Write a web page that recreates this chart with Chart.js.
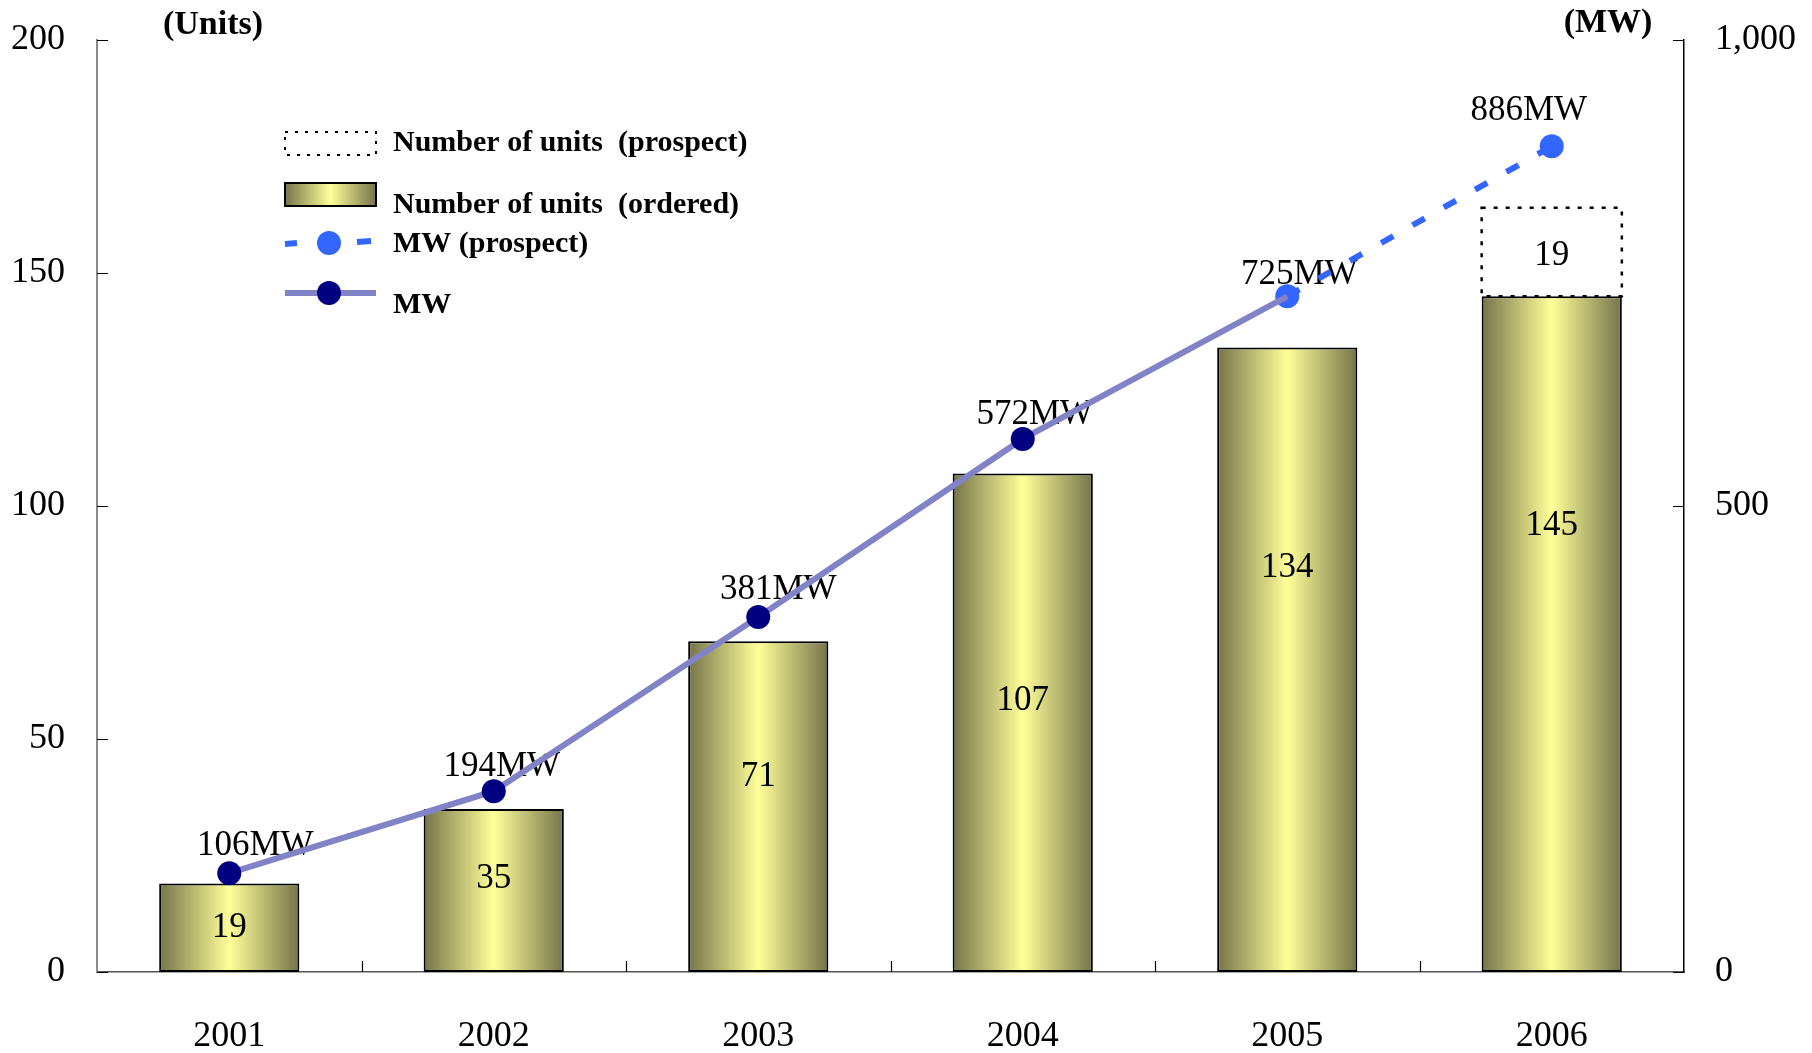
<!DOCTYPE html>
<html>
<head>
<meta charset="utf-8">
<title>Units and MW by year</title>
<script src="https://cdn.jsdelivr.net/npm/chart.js@4.4.1/dist/chart.umd.min.js"></script>
<style>
  html, body { margin: 0; padding: 0; background: #ffffff; }
  #wrap { width: 1812px; height: 1053px; }
</style>
</head>
<body>
<div id="wrap"><canvas id="chart" width="1812" height="1053"></canvas></div>
<script>
// ---- data ----
const YEARS = ['2001', '2002', '2003', '2004', '2005', '2006'];
const UNITS_ORDERED = [19, 35, 71, 107, 134, 145];
const UNITS_PROSPECT = [null, null, null, null, null, 19];
const MW_ACTUAL = [106, 194, 381, 572, 725, null];
const MW_PROSPECT = [null, null, null, null, 725, 886];
const UNIT_TICKS = [0, 50, 100, 150, 200];
const MW_TICKS = [0, 500, 1000];

// ---- label placement (units axis value for bar labels, pixel nudges for MW labels) ----
const BAR_LABEL_AT = [9.4, 19.9, 41.9, 58.3, 86.8, 95.8];
const MW_LABEL_NUDGE = [[26, -27], [8, -24], [20, -27], [12, -24], [12, -21], [-23, -35]];

const LEGEND_ITEMS = [
  'Number of units  (prospect)',
  'Number of units  (ordered)',
  'MW (prospect)',
  'MW'
];

// ---- style ----
const SERIF = '"Liberation Serif", "Times New Roman", serif';
const BAR_DARK = '#74744a';
const BAR_LIGHT = '#ffff99';
const LINE_COLOR = '#8282c6';
const POINT_COLOR = '#000080';
const PROSPECT_COLOR = '#3366ff';
const BAR_FRACTION = 0.53;

function barGradient(ctx, x0, x1) {
  const g = ctx.createLinearGradient(x0, 0, x1, 0);
  g.addColorStop(0, BAR_DARK);
  g.addColorStop(0.5, BAR_LIGHT);
  g.addColorStop(1, BAR_DARK);
  return g;
}

function scriptedBarFill(c) {
  const chart = c.chart;
  const xs = chart.scales && chart.scales.x;
  if (!chart.chartArea || !xs || c.type !== 'data') return BAR_LIGHT;
  const center = xs.getPixelForValue(c.dataIndex);
  const half = (xs.width / YEARS.length) * BAR_FRACTION / 2;
  return barGradient(chart.ctx, center - half, center + half);
}

// vertical axes: fixed width, no extra label padding above/below the plot
function fixVertical(width) {
  return s => {
    s.width = width;
    s.paddingTop = 0;
    s.paddingBottom = 0;
  };
}

const decor = {
  id: 'decor',
  beforeDatasetsDraw(chart) {
    // MW value labels sit under the lines
    const ctx = chart.ctx;
    ctx.save();
    ctx.font = '35px ' + SERIF;
    ctx.fillStyle = '#000';
    ctx.textAlign = 'center';
    ctx.textBaseline = 'middle';
    const yMW = chart.scales.y1;
    const xs = chart.scales.x;
    YEARS.forEach((yr, i) => {
      const v = MW_ACTUAL[i] != null ? MW_ACTUAL[i] : MW_PROSPECT[i];
      if (v == null) return;
      const px = xs.getPixelForValue(i) + MW_LABEL_NUDGE[i][0];
      const py = yMW.getPixelForValue(v) + MW_LABEL_NUDGE[i][1];
      ctx.fillText(v + 'MW', px, py);
    });
    ctx.restore();
  },
  afterDatasetDraw(chart, args) {
    if (args.index !== 0) return;
    const ctx = chart.ctx;
    const ys = chart.scales.y;
    // dotted outline for the prospect bar
    const metaP = chart.getDatasetMeta(1);
    ctx.save();
    ctx.strokeStyle = '#000';
    ctx.lineWidth = 2.5;
    ctx.setLineDash([4, 8]);
    metaP.data.forEach((el, i) => {
      if (UNITS_PROSPECT[i] == null) return;
      const p = el.getProps(['x', 'y', 'base', 'width'], true);
      ctx.strokeRect(p.x - p.width / 2, p.y, p.width, p.base - p.y);
    });
    ctx.restore();

    // bar value labels
    ctx.save();
    ctx.font = '35px ' + SERIF;
    ctx.fillStyle = '#000';
    ctx.textAlign = 'center';
    ctx.textBaseline = 'middle';
    const metaO = chart.getDatasetMeta(0);
    metaO.data.forEach((el, i) => {
      ctx.fillText(String(UNITS_ORDERED[i]), el.x, ys.getPixelForValue(BAR_LABEL_AT[i]));
    });
    metaP.data.forEach((el, i) => {
      if (UNITS_PROSPECT[i] == null) return;
      const p = el.getProps(['x', 'y', 'base'], true);
      ctx.fillText(String(UNITS_PROSPECT[i]), p.x, (p.y + p.base) / 2 + 4);
    });
    ctx.restore();
  },
  afterDraw(chart) {
    const ctx = chart.ctx;
    const area = chart.chartArea;
    const xs = chart.scales.x, ys = chart.scales.y, y1 = chart.scales.y1;
    const TL = 11;

    // inward tick marks
    ctx.save();
    ctx.strokeStyle = '#000';
    ctx.lineWidth = 1.2;
    ctx.beginPath();
    UNIT_TICKS.forEach(v => {
      const py = Math.round(ys.getPixelForValue(v)) + 0.5;
      ctx.moveTo(area.left, py); ctx.lineTo(area.left + TL, py);
    });
    MW_TICKS.forEach(v => {
      const py = Math.round(y1.getPixelForValue(v)) + 0.5;
      ctx.moveTo(area.right, py); ctx.lineTo(area.right - TL, py);
    });
    const step = xs.width / YEARS.length;
    for (let i = 1; i < YEARS.length; i++) {
      const px = Math.round(xs.getPixelForValue(i) - step / 2) + 0.5;
      ctx.moveTo(px, area.bottom); ctx.lineTo(px, area.bottom - TL);
    }
    ctx.stroke();
    ctx.restore();

    // axis unit captions
    ctx.save();
    ctx.font = 'bold 34px ' + SERIF;
    ctx.fillStyle = '#000';
    ctx.textAlign = 'center';
    ctx.textBaseline = 'middle';
    ctx.fillText('(Units)', area.left + 116, 25);
    ctx.fillText('(MW)', area.right - 76, 23);
    ctx.restore();

    // legend
    ctx.save();
    const lx = 285, lw = 91, tx = 393;
    // prospect units: dotted box
    ctx.strokeStyle = '#000';
    ctx.lineWidth = 2;
    ctx.setLineDash([3, 7]);
    ctx.strokeRect(lx, 132, lw, 23);
    ctx.setLineDash([]);
    // ordered units: gradient box
    ctx.fillStyle = barGradient(ctx, lx, lx + lw);
    ctx.fillRect(lx, 183, lw, 23);
    ctx.lineWidth = 2;
    ctx.strokeRect(lx, 183, lw, 23);
    // MW prospect: dashed line + point
    ctx.strokeStyle = PROSPECT_COLOR;
    ctx.lineWidth = 6;
    ctx.beginPath();
    ctx.moveTo(lx, 244); ctx.lineTo(lx + 12, 243);
    ctx.moveTo(lx + 72, 242); ctx.lineTo(lx + 86, 241);
    ctx.stroke();
    ctx.fillStyle = PROSPECT_COLOR;
    ctx.beginPath(); ctx.arc(lx + 44, 243, 12, 0, Math.PI * 2); ctx.fill();
    // MW actual: solid line + point
    ctx.strokeStyle = LINE_COLOR;
    ctx.beginPath(); ctx.moveTo(lx, 293); ctx.lineTo(lx + lw, 293); ctx.stroke();
    ctx.fillStyle = POINT_COLOR;
    ctx.beginPath(); ctx.arc(lx + 44, 293, 12, 0, Math.PI * 2); ctx.fill();
    // texts
    ctx.fillStyle = '#000';
    ctx.font = 'bold 30px ' + SERIF;
    ctx.textAlign = 'left';
    ctx.textBaseline = 'middle';
    const ys_txt = [143, 205, 244, 305];
    LEGEND_ITEMS.forEach((t, i) => ctx.fillText(t, tx, ys_txt[i]));
    ctx.restore();
  }
};

const tickFont = { family: SERIF, size: 36 };

new Chart(document.getElementById('chart'), {
  data: {
    labels: YEARS,
    datasets: [
      {
        type: 'bar',
        label: 'Number of units (ordered)',
        data: UNITS_ORDERED,
        yAxisID: 'y',
        backgroundColor: scriptedBarFill,
        borderColor: '#000',
        borderWidth: 2,
        borderSkipped: false,
        categoryPercentage: BAR_FRACTION,
        barPercentage: 1.0,
        order: 1
      },
      {
        type: 'bar',
        label: 'Number of units (prospect)',
        data: UNITS_PROSPECT,
        yAxisID: 'y',
        backgroundColor: 'rgba(255,255,255,0)',
        borderWidth: 0,
        categoryPercentage: BAR_FRACTION,
        barPercentage: 1.0,
        order: 1
      },
      {
        type: 'line',
        label: 'MW',
        data: MW_ACTUAL,
        yAxisID: 'y1',
        borderColor: LINE_COLOR,
        borderWidth: 6,
        pointRadius: [12, 12, 12, 12, 0, 0],
        pointBackgroundColor: POINT_COLOR,
        pointBorderWidth: 0,
        tension: 0,
        clip: false,
        order: 0
      },
      {
        type: 'line',
        label: 'MW (prospect)',
        data: MW_PROSPECT,
        yAxisID: 'y1',
        borderColor: PROSPECT_COLOR,
        borderWidth: 6,
        borderDash: [14, 22],
        pointRadius: 12,
        pointBackgroundColor: PROSPECT_COLOR,
        pointBorderWidth: 0,
        tension: 0,
        clip: false,
        order: 0
      }
    ]
  },
  options: {
    responsive: false,
    animation: false,
    devicePixelRatio: 1,
    layout: { padding: { top: 40, left: 0, right: 0, bottom: 0 } },
    plugins: {
      legend: { display: false },
      tooltip: { enabled: false }
    },
    scales: {
      x: {
        stacked: true,
        offset: true,
        grid: { display: false, drawTicks: false },
        border: { display: true, color: '#555', width: 1.5 },
        ticks: { font: tickFont, color: '#000', padding: 43, maxRotation: 0, autoSkip: false },
        afterFit: s => { s.height = 81; s.paddingLeft = 0; s.paddingRight = 0; }
      },
      y: {
        position: 'left',
        stacked: true,
        min: 0,
        max: 200,
        grid: { display: false, drawTicks: false },
        border: { display: true, color: '#8a8a8a', width: 2 },
        ticks: { font: tickFont, color: '#000', padding: 32 },
        afterBuildTicks: s => { s.ticks = UNIT_TICKS.map(v => ({ value: v })); },
        afterFit: fixVertical(97)
      },
      y1: {
        position: 'right',
        min: 0,
        max: 1000,
        grid: { display: false, drawTicks: false },
        border: { display: true, color: '#000', width: 1.5 },
        ticks: {
          font: tickFont, color: '#000', padding: 31,
          callback: v => Number(v).toLocaleString('en-US')
        },
        afterBuildTicks: s => { s.ticks = MW_TICKS.map(v => ({ value: v })); },
        afterFit: fixVertical(128)
      }
    }
  },
  plugins: [decor]
});
</script>
</body>
</html>
